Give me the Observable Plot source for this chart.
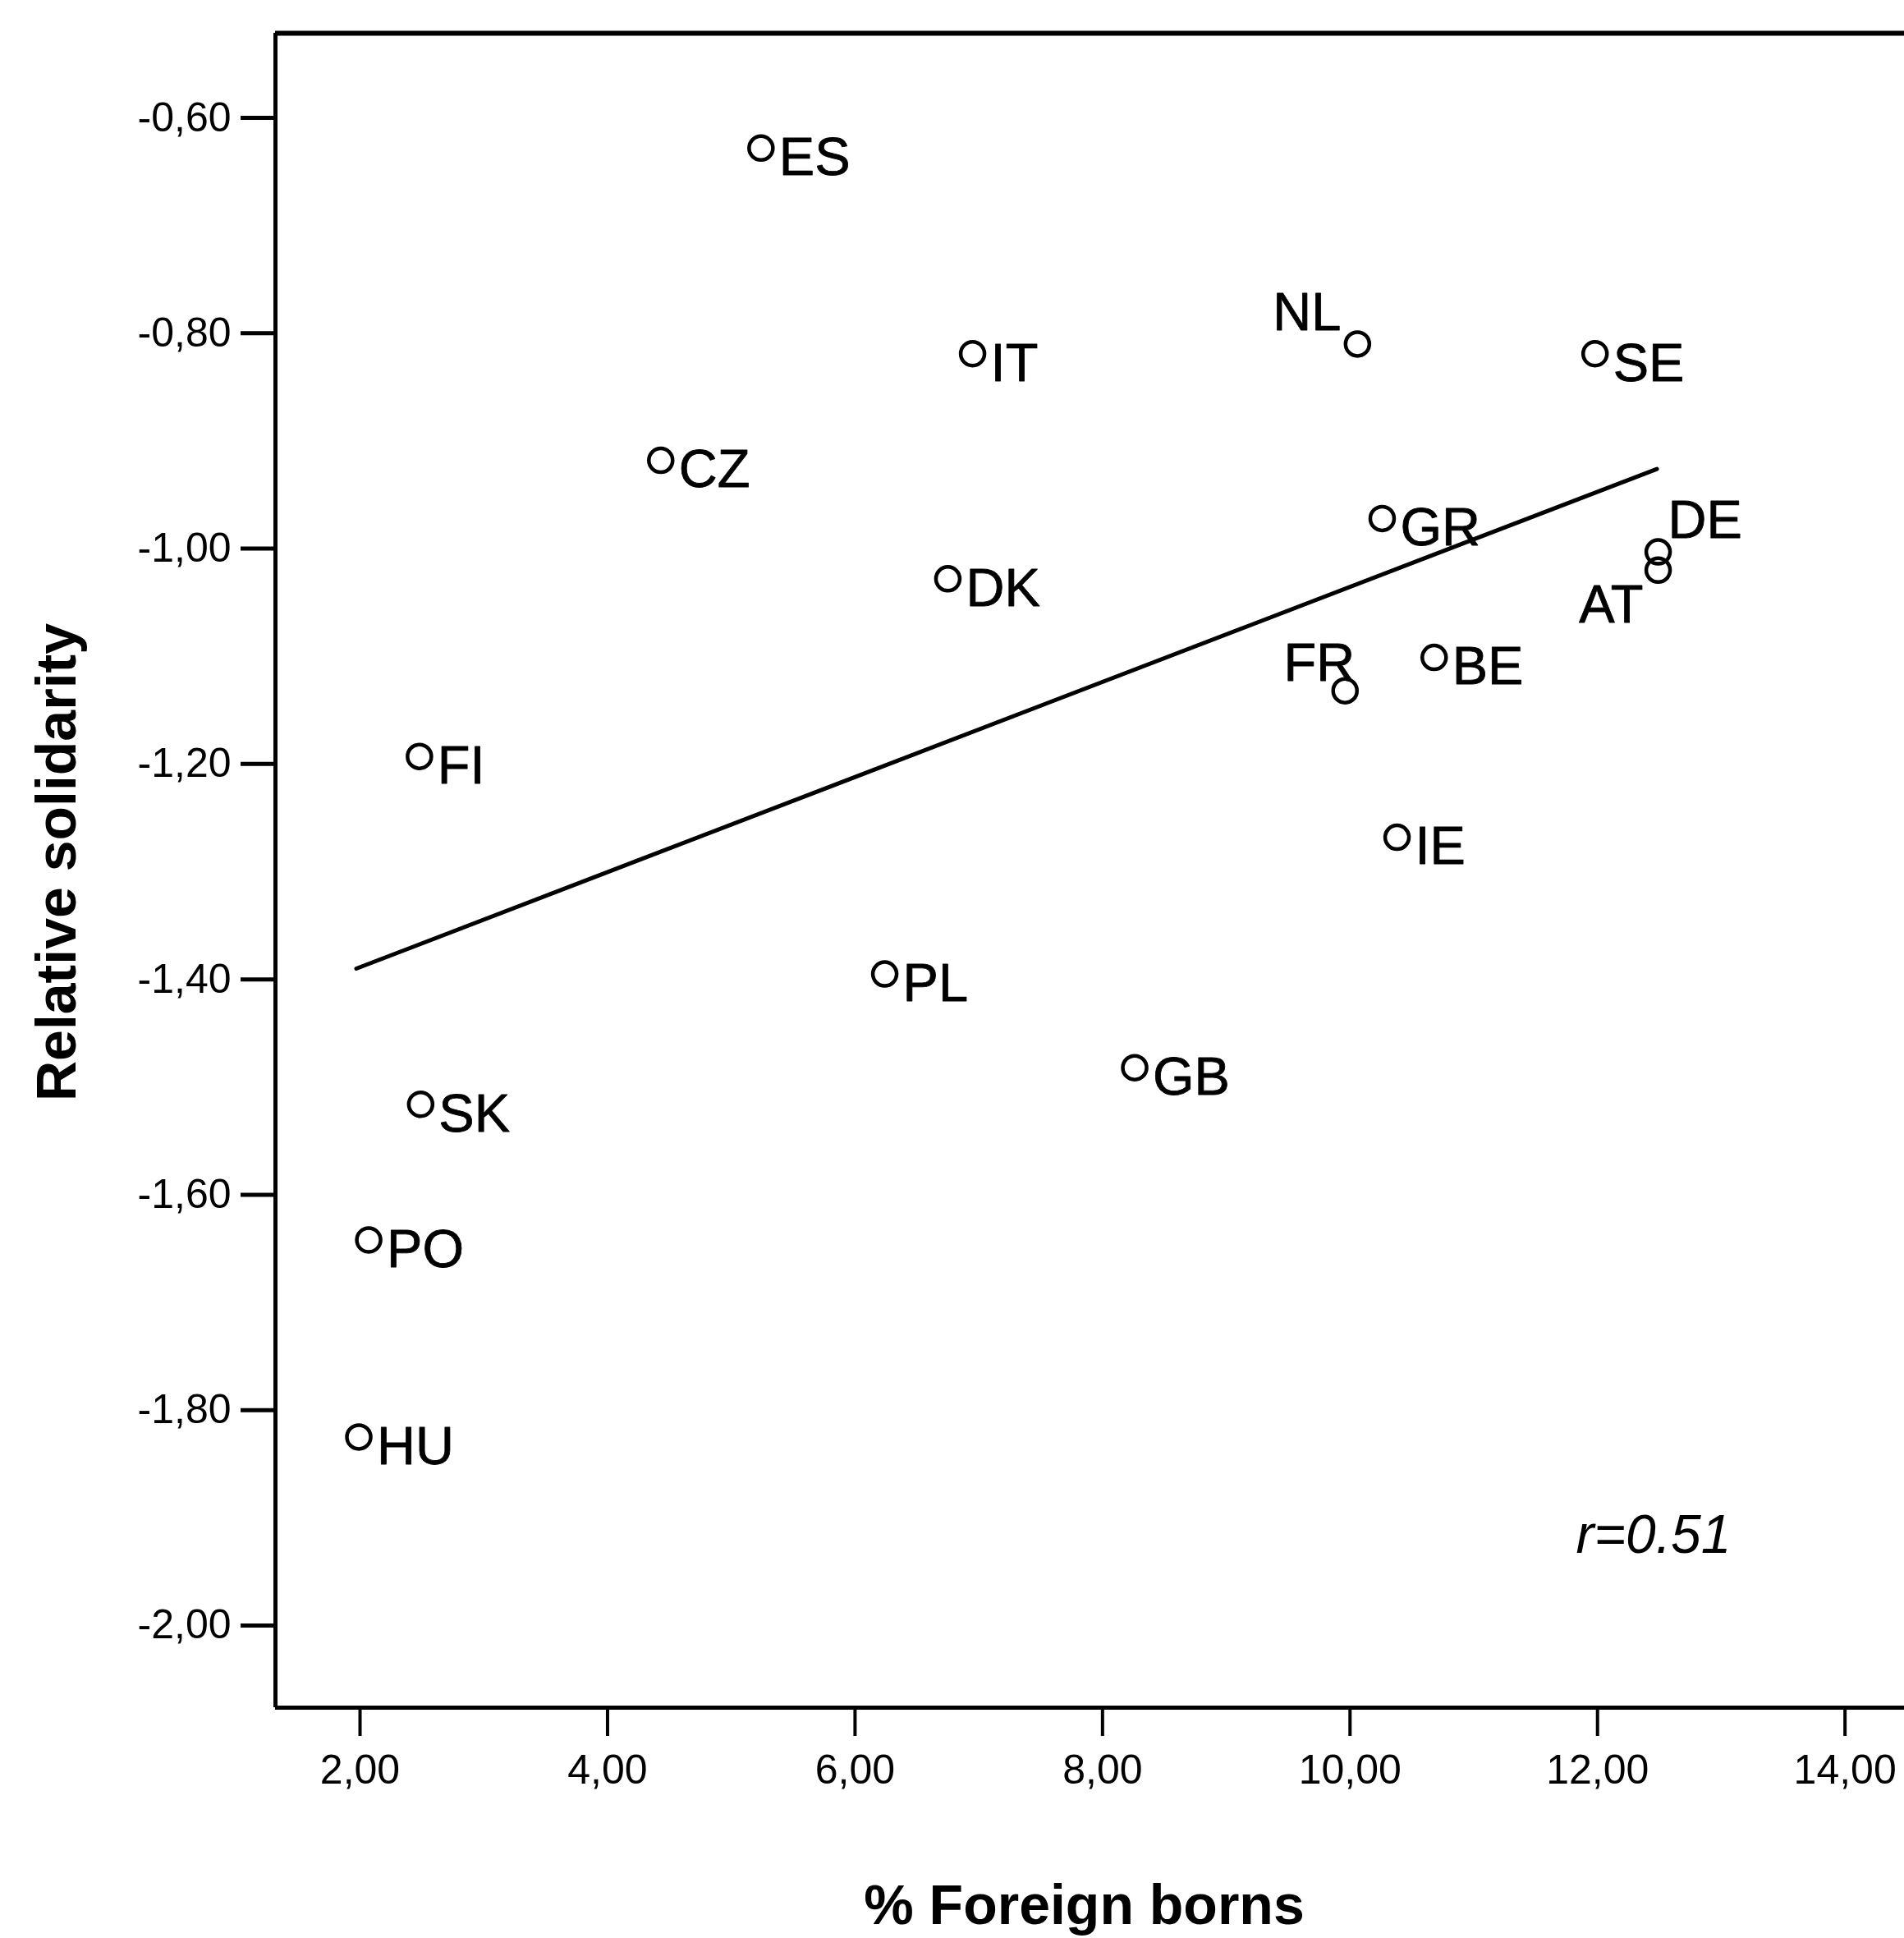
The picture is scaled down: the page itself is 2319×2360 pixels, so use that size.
<!DOCTYPE html>
<html><head><meta charset="utf-8">
<script src="https://cdn.jsdelivr.net/npm/d3@7"></script>
<script src="https://cdn.jsdelivr.net/npm/@observablehq/plot@0.6"></script>
<style>html,body{margin:0;padding:0;background:#fff}</style>
</head><body><div id="chart"></div>
<script>
// ---- data ----
const countries   = ["ES","IT","NL","SE","CZ","GR","DE","AT","DK","FR","BE","FI","IE","PL","GB","SK","PO","HU"];
const foreignBorn = [5.24,6.95,10.06,11.98,4.43,10.26,12.49,12.49,6.75,9.96,10.68,2.48,10.38,6.24,8.26,2.49,2.07,1.99];
const solidarity  = [-0.628,-0.819,-0.810,-0.819,-0.918,-0.972,-1.003,-1.020,-1.028,-1.132,-1.101,-1.193,-1.268,-1.395,-1.482,-1.516,-1.642,-1.825];
const fitX = [1.97, 12.48];
const fitY = [-1.39, -0.926];
const xTicks = [2,4,6,8,10,12,14];
const yTicks = [-0.6,-0.8,-1.0,-1.2,-1.4,-1.6,-1.8,-2.0];
const xTitle = "% Foreign borns";
const yTitle = "Relative solidarity";
const corrLabel = "r=0.51";

const pts = countries.map((c,i)=>({country:c, x:foreignBorn[i], y:solidarity[i]}));
const fit = fitX.map((x,i)=>({x, y:fitY[i]}));

const W = 2319, H = 2360;
const xDomain = [1.3165, 14.48];
const yDomain = [-2.0763, -0.5214];
const fmt = d => d.toFixed(2).replace(".", ",");
const FONT = "'Liberation Sans', Arial, Helvetica, sans-serif";
const special = new Set(["NL","FR","DE","AT"]);
const lab = {fontSize: 65, fill: "black", stroke: "black", strokeWidth: 0.8};

const chart = Plot.plot({
  width: W, height: H,
  marginLeft: 335, marginTop: 40, marginBottom: 281, marginRight: 0,
  style: {fontFamily: FONT, background: "white", color: "black", overflow: "visible"},
  x: {domain: xDomain},
  y: {domain: yDomain},
  marks: [
    Plot.axisX({ticks: xTicks, tickFormat: fmt, tickSize: 35, tickPadding: 22, fontSize: 50, strokeWidth: 4, label: null}),
    Plot.axisY({ticks: yTicks, tickFormat: fmt, tickSize: 42, tickPadding: 12, fontSize: 50, strokeWidth: 5, label: null}),
    Plot.ruleX([xDomain[0]], {strokeWidth: 5}),
    Plot.ruleY([yDomain[0]], {strokeWidth: 5}),
    Plot.ruleY([yDomain[1]], {strokeWidth: 6}),
    Plot.line(fit, {x: "x", y: "y", strokeWidth: 5, stroke: "black"}),
    Plot.dot(pts, {x: "x", y: "y", r: 14.5, stroke: "black", strokeWidth: 4.5, fill: "none"}),
    Plot.text(pts.filter(d => !special.has(d.country)), {x: "x", y: "y", text: "country", textAnchor: "start", dx: 22, dy: 12, ...lab}),
    Plot.text(pts.filter(d => d.country === "NL"), {x: "x", y: "y", text: "country", textAnchor: "end", dx: -20, dy: -38, ...lab}),
    Plot.text(pts.filter(d => d.country === "FR"), {x: "x", y: "y", text: "country", textAnchor: "end", dx: 12, dy: -33, ...lab}),
    Plot.text(pts.filter(d => d.country === "DE"), {x: "x", y: "y", text: "country", textAnchor: "start", dx: 12, dy: -38, ...lab}),
    Plot.text(pts.filter(d => d.country === "AT"), {x: "x", y: "y", text: "country", textAnchor: "end", dx: -18, dy: 43, ...lab}),
    Plot.text([corrLabel], {frameAnchor: "bottom-right", textAnchor: "end", lineAnchor: "middle", dx: -211, dy: -210, fontSize: 66, fontStyle: "italic", fill: "black"}),
    Plot.text([xTitle], {frameAnchor: "bottom", textAnchor: "middle", lineAnchor: "middle", dx: -7, dy: 242, fontSize: 68, fontWeight: "bold", fill: "black"}),
    Plot.text([yTitle], {frameAnchor: "left", textAnchor: "middle", lineAnchor: "middle", rotate: -90, dx: -265, dy: -10, fontSize: 68, fontWeight: "bold", fill: "black"})
  ]
});
document.getElementById("chart").appendChild(chart);
</script>
</body></html>
